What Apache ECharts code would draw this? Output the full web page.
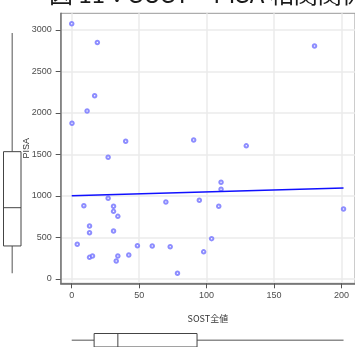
<!DOCTYPE html>
<html>
<head>
<meta charset="utf-8">
<script src="https://cdn.jsdelivr.net/npm/echarts@6/dist/echarts.min.js"></script>
<style>
  html, body { margin: 0; padding: 0; background: #fff; }
  #chart { width: 355px; height: 347px; }
</style>
</head>
<body>
<div id="chart"></div>
<script>
// SOST vs PISA scatter, with marginal boxplots
const sost = [0, 19, 17, 11.4, 0.2, 40, 90.4, 180, 129.4, 27, 27, 9, 31, 31, 34.2, 13.2, 13.2, 31, 4.1,
  13.2, 15.4, 34.2, 33, 42.3, 48.7, 59.7, 69.8, 73, 78.4, 94.6, 97.8, 110.7, 110.7, 109, 103.7, 201.5];
const pisa = [3075, 2850, 2208, 2024, 1876, 1659, 1675, 2807, 1604, 1466, 972, 883, 876, 815, 755, 638, 558, 578, 418,
  261, 277, 277, 217, 289, 401, 398, 928, 389, 69, 948, 327, 1165, 1081, 876, 486, 843];
const fitX = [0, 201.5];
const fitY = [1003, 1097];
// min, q1, median, q3, max
const pisaBox = [69, 398, 859, 1534, 2964];
const sostBox = [0, 16.6, 34.2, 92.9, 201.5];
const xTicks = [0, 50, 100, 150, 200];
const yTicks = [0, 500, 1000, 1500, 2000, 2500, 3000];

const labelFont = { fontFamily: 'Liberation Sans', fontSize: 9, color: '#4d4d4d', formatter: v => String(v) };
const boxStroke = '#444';
const whiskerColor = '#8c8c8c';

function boxVertical(params, api) {
  const wLo = api.coord([0, api.value(0)]);
  const q1 = api.coord([-1, api.value(1)]);
  const med = api.coord([0, api.value(2)]);
  const q3 = api.coord([1, api.value(3)]);
  const wHi = api.coord([0, api.value(4)]);
  return {
    type: 'group',
    children: [
      { type: 'line', shape: { x1: wLo[0], y1: wLo[1], x2: wLo[0], y2: q1[1] }, style: { stroke: whiskerColor, lineWidth: 1.5 } },
      { type: 'line', shape: { x1: wHi[0], y1: wHi[1], x2: wHi[0], y2: q3[1] }, style: { stroke: whiskerColor, lineWidth: 1.5 } },
      { type: 'rect', shape: { x: q1[0], y: q3[1], width: q3[0] - q1[0], height: q1[1] - q3[1] }, style: { fill: '#fff', stroke: boxStroke, lineWidth: 1 } },
      { type: 'line', shape: { x1: q1[0], y1: med[1], x2: q3[0], y2: med[1] }, style: { stroke: boxStroke, lineWidth: 1 } }
    ]
  };
}

function boxHorizontal(params, api) {
  const wLo = api.coord([api.value(0), 0]);
  const q1 = api.coord([api.value(1), 1]);
  const med = api.coord([api.value(2), 0]);
  const q3 = api.coord([api.value(3), -1]);
  const wHi = api.coord([api.value(4), 0]);
  return {
    type: 'group',
    children: [
      { type: 'line', shape: { x1: wLo[0], y1: wLo[1], x2: q1[0], y2: wLo[1] }, style: { stroke: whiskerColor, lineWidth: 1.5 } },
      { type: 'line', shape: { x1: q3[0], y1: wHi[1], x2: wHi[0], y2: wHi[1] }, style: { stroke: whiskerColor, lineWidth: 1.5 } },
      { type: 'rect', shape: { x: q1[0], y: q1[1], width: q3[0] - q1[0], height: q3[1] - q1[1] }, style: { fill: '#fff', stroke: boxStroke, lineWidth: 1 } },
      { type: 'line', shape: { x1: med[0], y1: q1[1], x2: med[0], y2: q3[1] }, style: { stroke: boxStroke, lineWidth: 1 } }
    ]
  };
}

const points = sost.map((x, i) => [x, pisa[i]]);
const fitLine = fitX.map((x, i) => [x, fitY[i]]);

const option = {
  backgroundColor: '#fff',
  animation: false,
  title: {
    text: '図 11：SOST・PISA 相関関係',
    left: 44,
    top: -23,
    textStyle: { fontFamily: 'Noto Sans CJK JP', fontSize: 24, fontWeight: 'normal', color: '#1a1a1a' }
  },
  grid: [
    { left: 60.7, top: 13.3, width: 296.5, height: 270, show: true, borderColor: '#999', borderWidth: 1 },
    { left: 3.5, top: 13.3, width: 17.5, height: 270 },
    { left: 60.7, top: 333.5, width: 296.5, height: 17 }
  ],
  xAxis: [
    {
      type: 'value', gridIndex: 0, min: -8.17, max: 210,
      name: 'SOST全値', nameLocation: 'middle', nameGap: 31, nameMoveOverlap: false,
      nameTextStyle: { fontFamily: 'Noto Sans CJK JP', fontSize: 9, color: '#333' },
      axisLine: { show: true, onZero: false, lineStyle: { color: '#666', width: 1.5 } },
      axisTick: { show: true, length: 5, customValues: xTicks, lineStyle: { color: '#555' } },
      axisLabel: { customValues: xTicks, margin: 8, ...labelFont },
      splitLine: { show: true, lineStyle: { color: '#ebebeb', width: 1.5 } }
    },
    { type: 'value', gridIndex: 1, min: -1, max: 1, show: false },
    {
      type: 'value', gridIndex: 2, min: -8.17, max: 210, show: false
    }
  ],
  yAxis: [
    {
      type: 'value', gridIndex: 0, min: -51.8, max: 3201,
      name: 'PISA', nameLocation: 'middle', nameGap: 30, nameRotate: 90, nameMoveOverlap: false,
      nameTextStyle: { fontFamily: 'Liberation Sans', fontSize: 9, color: '#333' },
      axisLine: { show: true, onZero: false, lineStyle: { color: '#777', width: 1.5 } },
      axisTick: { show: true, length: 5, customValues: yTicks, lineStyle: { color: '#555' } },
      axisLabel: { customValues: yTicks, margin: 9, ...labelFont },
      splitLine: { show: true, lineStyle: { color: '#ebebeb', width: 1.5 } }
    },
    { type: 'value', gridIndex: 1, min: -51.8, max: 3201, show: false },
    { type: 'value', gridIndex: 2, min: -1, max: 1, show: false }
  ],
  series: [
    {
      type: 'scatter', xAxisIndex: 0, yAxisIndex: 0,
      data: points, symbol: 'emptyCircle', symbolSize: 3.5,
      itemStyle: { color: '#7070ff', borderColor: '#7070ff', borderWidth: 0.9 }
    },
    {
      type: 'line', xAxisIndex: 0, yAxisIndex: 0,
      data: fitLine, symbol: 'none',
      lineStyle: { color: '#1010ff', width: 1.5 }
    },
    {
      type: 'custom', xAxisIndex: 1, yAxisIndex: 1,
      renderItem: boxVertical, data: [pisaBox]
    },
    {
      type: 'custom', xAxisIndex: 2, yAxisIndex: 2,
      renderItem: boxHorizontal, data: [sostBox]
    }
  ]
};

const chart = echarts.init(document.getElementById('chart'));
chart.setOption(option);
</script>
</body>
</html>
